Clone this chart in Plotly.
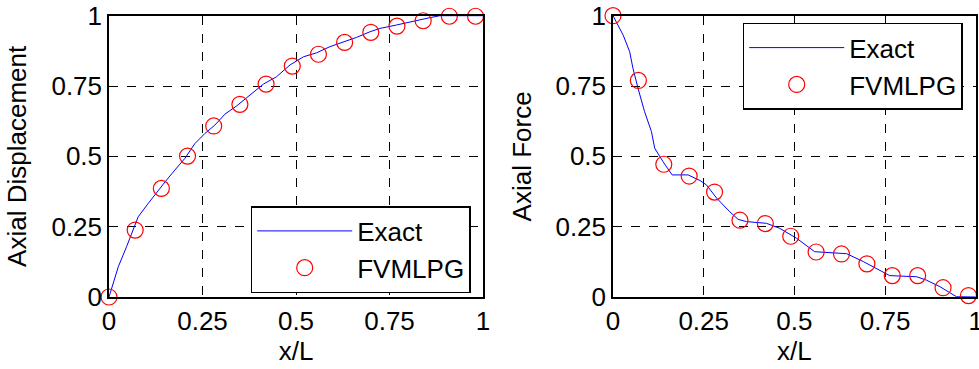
import plotly.graph_objects as go

# ---------------- data ----------------
x_nodes = [0.0, 0.07, 0.14, 0.21, 0.28, 0.35, 0.42, 0.49, 0.56, 0.63, 0.70, 0.77, 0.84, 0.91, 0.98]

disp_fvmlpg = [0.0, 0.238, 0.386, 0.501, 0.608, 0.685, 0.757, 0.821, 0.863, 0.905, 0.941, 0.963, 0.982, 0.998, 0.998]
force_fvmlpg = [1.0, 0.770, 0.472, 0.430, 0.373, 0.273, 0.261, 0.216, 0.160, 0.153, 0.118, 0.076, 0.076, 0.033, 0.005]

disp_exact_x = [0.0, 0.025, 0.047, 0.061, 0.078, 0.105, 0.132, 0.154, 0.176, 0.203, 0.230, 0.257, 0.283,
                0.310, 0.341, 0.377, 0.413, 0.448, 0.484, 0.520, 0.555, 0.591, 0.627, 0.662, 0.698,
                0.725, 0.769, 0.814, 0.858, 0.885, 1.0]
disp_exact_y = [0.0, 0.108, 0.179, 0.226, 0.285, 0.333, 0.380, 0.416, 0.451, 0.493, 0.546, 0.582, 0.611,
                0.650, 0.679, 0.718, 0.757, 0.783, 0.825, 0.854, 0.868, 0.890, 0.907, 0.923, 0.943,
                0.955, 0.967, 0.981, 0.993, 1.0, 1.0]

force_exact_x = [0.0, 0.028, 0.046, 0.055, 0.069, 0.087, 0.106, 0.115, 0.138, 0.163, 0.207, 0.240, 0.258,
                 0.286, 0.322, 0.345, 0.368, 0.423, 0.460, 0.506, 0.556, 0.607, 0.644, 0.690, 0.749,
                 0.763, 0.837, 0.864, 0.901, 0.947, 1.0]
force_exact_y = [1.0, 0.931, 0.872, 0.813, 0.742, 0.659, 0.588, 0.529, 0.481, 0.434, 0.434, 0.414, 0.398,
                 0.351, 0.303, 0.276, 0.268, 0.262, 0.244, 0.209, 0.161, 0.157, 0.154, 0.126, 0.084,
                 0.076, 0.072, 0.060, 0.037, 0.001, 0.0]

tick_vals = [0, 0.25, 0.5, 0.75, 1]
tick_text = ["0", "0.25", "0.5", "0.75", "1"]

x_title = "x/L"
y_title_left = "Axial Displacement"
y_title_right = "Axial Force"

# ---------------- figure ----------------
FONT = "Arial, 'Liberation Sans', sans-serif"
FS = 26
W, H = 979, 369

fig = go.Figure()

fig.add_trace(go.Scatter(x=disp_exact_x, y=disp_exact_y, mode="lines", name="Exact",
                         line=dict(color="#0000FF", width=1), xaxis="x", yaxis="y", legend="legend"))
fig.add_trace(go.Scatter(x=x_nodes, y=disp_fvmlpg, mode="markers", name="FVMLPG",
                         marker=dict(symbol="circle-open", size=16, color="#FF0000", line=dict(width=1.2, color="#FF0000")),
                         xaxis="x", yaxis="y", legend="legend", cliponaxis=False))
fig.add_trace(go.Scatter(x=force_exact_x, y=force_exact_y, mode="lines", name="Exact",
                         line=dict(color="#0000FF", width=1), xaxis="x2", yaxis="y2", legend="legend2"))
fig.add_trace(go.Scatter(x=x_nodes, y=force_fvmlpg, mode="markers", name="FVMLPG",
                         marker=dict(symbol="circle-open", size=16, color="#FF0000", line=dict(width=1.2, color="#FF0000")),
                         xaxis="x2", yaxis="y2", legend="legend2", cliponaxis=False))

ax_common = dict(
    range=[0, 1], tickvals=tick_vals, ticktext=tick_text,
    showgrid=True, gridcolor="black", griddash="dash", gridwidth=1,
    showline=True, linecolor="black", linewidth=1.5, mirror=True,
    zeroline=False, ticks="", tickfont=dict(family=FONT, size=FS, color="black"),
    automargin=False, ticklabeloverflow="allow", ticklabelstandoff=0,
)

def px_x(p):
    return p / W

def px_y(p):
    return 1 - p / H

fig.update_layout(
    width=W, height=H,
    margin=dict(l=0, r=0, t=0, b=0),
    paper_bgcolor="white", plot_bgcolor="white",
    font=dict(family=FONT, size=FS, color="black"),
    xaxis=dict(ax_common, domain=[px_x(109), px_x(483)], anchor="y",
               title=dict(text=x_title, font=dict(family=FONT, size=FS), standoff=4)),
    yaxis=dict(ax_common, domain=[px_y(297), px_y(15.7)], anchor="x",
               title=dict(text=y_title_left, font=dict(family=FONT, size=FS), standoff=17)),
    xaxis2=dict(ax_common, domain=[px_x(613), px_x(975.7)], anchor="y2",
                title=dict(text=x_title, font=dict(family=FONT, size=FS), standoff=4)),
    yaxis2=dict(ax_common, domain=[px_y(297), px_y(15.7)], anchor="x2",
                title=dict(text=y_title_right, font=dict(family=FONT, size=FS), standoff=16)),
    legend=dict(x=px_x(250.7), y=px_y(206), xanchor="left", yanchor="top",
                bgcolor="white", bordercolor="black", borderwidth=1.5,
                font=dict(family=FONT, size=FS), itemwidth=95),
    legend2=dict(x=px_x(742.7), y=px_y(22.7), xanchor="left", yanchor="top",
                 bgcolor="white", bordercolor="black", borderwidth=1.5,
                 font=dict(family=FONT, size=FS), itemwidth=95),
)

# remove the default page margin so the figure sits at the window's top-left corner
fig.write_html("out.html", config={"displayModeBar": False},
               post_script="document.body.style.margin='0';")
